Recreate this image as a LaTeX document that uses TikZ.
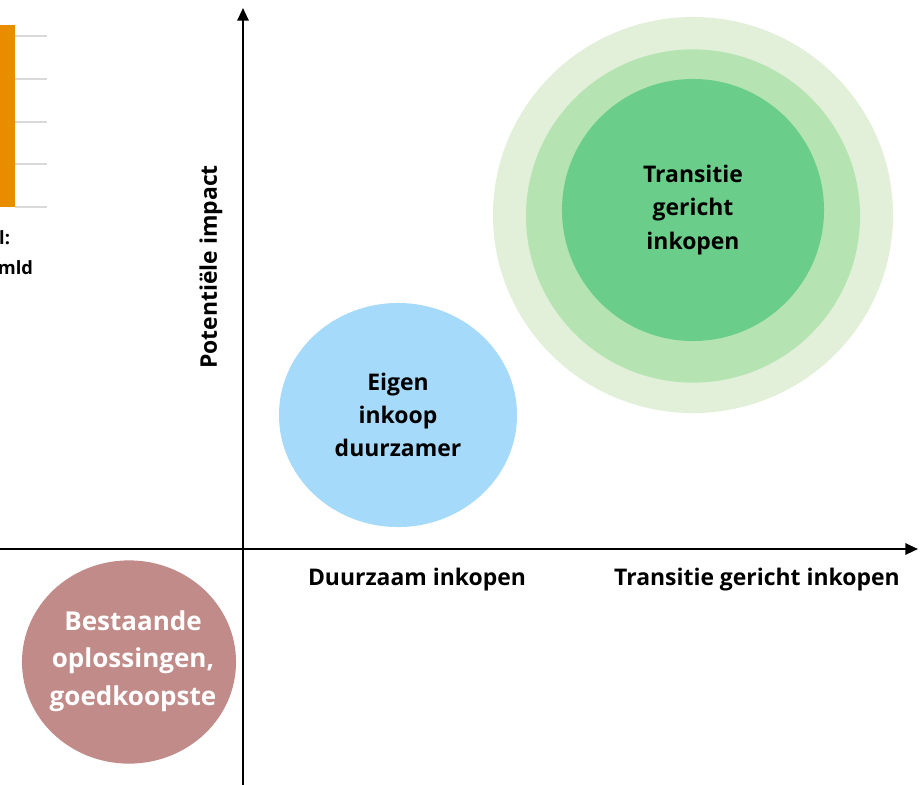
\documentclass[tikz,border=0pt]{standalone}
\usepackage{fontspec}
\setmainfont{Open Sans}
\usetikzlibrary{arrows.meta,shapes.geometric}

\definecolor{barorange}{RGB}{234,140,0}
\definecolor{gridgray}{RGB}{217,217,217}
\definecolor{eigenblue}{RGB}{166,218,250}
\definecolor{ringouter}{RGB}{226,240,217}
\definecolor{ringmid}{RGB}{181,228,178}
\definecolor{ringinner}{RGB}{106,206,138}
\definecolor{oudbrown}{RGB}{193,139,137}

\tikzset{
  bubble/.style={ellipse,inner sep=0pt,align=center,font=\fontsize{16.3}{23.5}\selectfont\bfseries},
  axislabel/.style={font=\fontsize{16.3}{20}\selectfont\bfseries},
  axis/.style={line width=1.6pt,-{Triangle[length=9pt,width=8pt]}}
}

\begin{document}
\begin{tikzpicture}[x=0.025cm,y=-0.025cm]
      \useasboundingbox (0,0) rectangle (920,784);

      % cut-off chart on the left
      \foreach \gy in {36,79,122,164,207}
        \draw[gridgray,line width=1pt] (15,\gy) -- (47,\gy);
      \fill[barorange] (-20,25) rectangle (15,207);
      \node[anchor=east,font=\fontsize{13}{15}\selectfont\bfseries] (cutA) at (15,238){l:};
      \node[anchor=east,font=\fontsize{13}{15}\selectfont\bfseries] (cutB) at (38,268){mld};

      % circles
      \node[bubble,fill=ringouter,minimum width=10cm,minimum height=9.9cm] (outer) at (693,215){};
      \node[bubble,fill=ringmid,minimum width=8.35cm,minimum height=8.33cm] (mid) at (693,216){};
      \node[bubble,fill=ringinner,minimum width=6.55cm,minimum height=6.55cm] (trans) at (693,210){Transitie\\gericht\\inkopen};
      \node[bubble,fill=eigenblue,minimum width=5.95cm,minimum height=5.6cm] (eigen) at (398,415){Eigen\\inkoop\\duurzamer};
      \node[bubble,fill=oudbrown,minimum width=5.35cm,minimum height=5.08cm] (oud) at (129,662){};
      \node[align=center,text=white,font=\fontsize{18.5}{26.5}\selectfont\bfseries] (oudtext) at (133,661){Bestaande\\oplossingen,\\goedkoopste};

      % axes
      \coordinate (ybot) at (243,790);
      \coordinate (ytop) at (243,8);
      \coordinate (xleft) at (-5,549);
      \coordinate (xright) at (918,549);
      \draw[axis] (ybot) -- (ytop);
      \draw[axis] (xleft) -- (xright);

      \node[axislabel,rotate=90] (impact) at (211,267){Potentiële impact};
      \node[axislabel] (duurzaam) at (417,580){Duurzaam inkopen};
      \node[axislabel] (transitie) at (757,580){Transitie gericht inkopen};

\end{tikzpicture}
\end{document}
